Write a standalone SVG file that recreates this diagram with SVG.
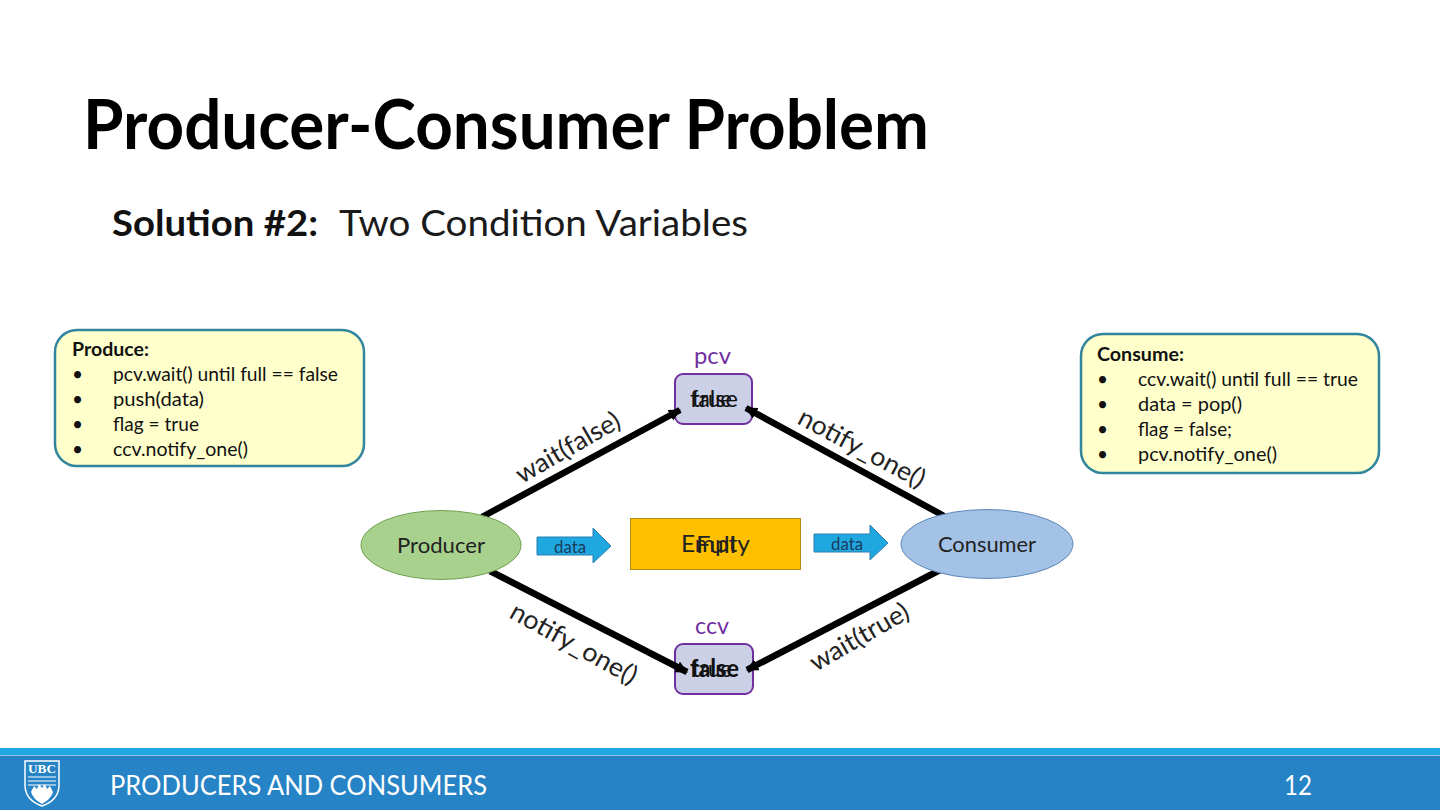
<svg xmlns="http://www.w3.org/2000/svg" width="1440" height="810" viewBox="0 0 1440 810">
<style>
text{font-family:"Lato","Open Sans","Liberation Sans",sans-serif;}
.note{fill:#ffffcc;stroke:#31859c;stroke-width:2.5}
.nt{font-size:19px;fill:#111}
.b{font-weight:700}
.lab{font-size:26px;fill:#222}
.flag{fill:#ccd0e6;stroke:#7030a0;stroke-width:2}
.cv{font-size:23.5px;fill:#7030a0}
.val{font-size:24px;fill:#111}
.arr{fill:#1fa8e0;stroke:#2e7fb0;stroke-width:1}
.dt{font-size:17px;fill:#1c3a5c}
.conn{stroke:#000;stroke-width:6.5;fill:none}
.ah{fill:#000}
</style>
<defs>
<marker id="head" markerUnits="userSpaceOnUse" markerWidth="14" markerHeight="14" refX="11" refY="7" orient="auto"><path class="ah" d="M0,1L12,7L0,13z"/></marker>
</defs>
<rect width="1440" height="810" fill="#fff"/>
<text x="83" y="149" font-size="69" font-weight="700" fill="#000" textLength="846" lengthAdjust="spacingAndGlyphs">Producer-Consumer Problem</text>
<text x="112" y="236" font-size="37" font-weight="700" fill="#111" textLength="206" lengthAdjust="spacingAndGlyphs">Solution #2:</text>
<text x="339" y="236" font-size="37" fill="#1a1a1a" textLength="409" lengthAdjust="spacingAndGlyphs">Two Condition Variables</text>

<g id="produce-note">
<rect class="note" x="55" y="330" width="309" height="136" rx="22"/>
<text class="nt b" x="72" y="356" textLength="77" lengthAdjust="spacingAndGlyphs">Produce:</text>
<text class="nt" x="72" y="381">•</text><text class="nt" x="113" y="381" textLength="225" lengthAdjust="spacingAndGlyphs">pcv.wait() until full == false</text>
<text class="nt" x="72" y="406">•</text><text class="nt" x="113" y="406" textLength="91" lengthAdjust="spacingAndGlyphs">push(data)</text>
<text class="nt" x="72" y="431">•</text><text class="nt" x="113" y="431" textLength="86" lengthAdjust="spacingAndGlyphs">flag = true</text>
<text class="nt" x="72" y="456">•</text><text class="nt" x="113" y="456" textLength="135" lengthAdjust="spacingAndGlyphs">ccv.notify_one()</text>
</g>
<g id="consume-note">
<rect class="note" x="1081" y="334" width="298" height="139" rx="22"/>
<text class="nt b" x="1097" y="361" textLength="87" lengthAdjust="spacingAndGlyphs">Consume:</text>
<text class="nt" x="1097" y="386">•</text><text class="nt" x="1138" y="386" textLength="220" lengthAdjust="spacingAndGlyphs">ccv.wait() until full == true</text>
<text class="nt" x="1097" y="411">•</text><text class="nt" x="1138" y="411" textLength="104" lengthAdjust="spacingAndGlyphs">data = pop()</text>
<text class="nt" x="1097" y="436">•</text><text class="nt" x="1138" y="436" textLength="94" lengthAdjust="spacingAndGlyphs">flag = false;</text>
<text class="nt" x="1097" y="461">•</text><text class="nt" x="1138" y="461" textLength="139" lengthAdjust="spacingAndGlyphs">pcv.notify_one()</text>
</g>

<g id="pcv">
<text class="cv" x="694" y="364" textLength="37" lengthAdjust="spacingAndGlyphs">pcv</text>
<rect class="flag" x="675" y="374" width="77" height="50" rx="8"/>
<text class="val" x="690" y="407" textLength="48" lengthAdjust="spacingAndGlyphs">false</text>
<text class="val" x="692" y="407" textLength="40" lengthAdjust="spacingAndGlyphs">true</text>
</g>
<g id="ccv">
<text class="cv" x="695" y="634" textLength="34" lengthAdjust="spacingAndGlyphs">ccv</text>
<rect class="flag" x="675" y="644" width="78" height="50" rx="8"/>
<text class="val" x="690" y="677" textLength="49" lengthAdjust="spacingAndGlyphs" font-weight="700">false</text>
<text class="val" x="692" y="677" textLength="40" lengthAdjust="spacingAndGlyphs">true</text>
</g>
<g id="connectors">
<path class="conn" d="M482 517L680 410" marker-end="url(#head)"/>
<path class="conn" d="M944 516L746 408" marker-end="url(#head)"/>
<path class="conn" d="M490 571L687 672" marker-end="url(#head)"/>
<path class="conn" d="M940 570L747 670" marker-end="url(#head)"/>
<text class="lab" transform="translate(522,484) rotate(-30)" textLength="116" lengthAdjust="spacingAndGlyphs">wait(false)</text>
<text class="lab" transform="translate(796,423) rotate(28)" textLength="140" lengthAdjust="spacingAndGlyphs">notify_one()</text>
<text class="lab" transform="translate(508,617) rotate(29)" textLength="141" lengthAdjust="spacingAndGlyphs">notify_one()</text>
<text class="lab" transform="translate(816,672) rotate(-30)" textLength="110" lengthAdjust="spacingAndGlyphs">wait(true)</text>
</g>
<g id="producer">
<ellipse cx="441" cy="545" rx="80" ry="34.5" fill="#a9d18e" stroke="#70a04f" stroke-width="1"/>
<text x="397" y="553" font-size="21" fill="#222" textLength="88" lengthAdjust="spacingAndGlyphs">Producer</text>
</g>
<g id="consumer">
<ellipse cx="987" cy="544" rx="86" ry="34.5" fill="#a4c2e6" stroke="#5b86b8" stroke-width="1"/>
<text x="938" y="552" font-size="21" fill="#222" textLength="98" lengthAdjust="spacingAndGlyphs">Consumer</text>
</g>
<g id="buffer">
<rect x="630.500" y="518.500" width="170" height="51" fill="#ffc000" stroke="#b38a16" stroke-width="1"/>
<text x="681" y="552" font-size="23" fill="#222" textLength="69" lengthAdjust="spacingAndGlyphs">Empty</text>
<text x="696" y="553" font-size="23" fill="#222" textLength="40" lengthAdjust="spacingAndGlyphs">Full</text>
</g>
<g id="data-in">
<path class="arr" d="M537 537H593V528L611 546L593 563V555H537z"/>
<text class="dt" x="554" y="553" textLength="32" lengthAdjust="spacingAndGlyphs">data</text>
</g>
<g id="data-out">
<path class="arr" d="M814 534H870V525L888 543L870 560V552H814z"/>
<text class="dt" x="831" y="550" textLength="32" lengthAdjust="spacingAndGlyphs">data</text>
</g>

<g id="footer">
<rect x="0" y="748" width="1440" height="7" fill="#1fa8e0"/>
<rect x="0" y="755.500" width="1440" height="54.500" fill="#2683c6"/>
<g id="logo">
<path d="M25 761H59V785Q59 800 42 806Q25 800 25 785z" fill="#2683c6" stroke="#fff" stroke-width="1.500"/>
<text x="28" y="773" font-size="12" font-weight="700" fill="#fff" textLength="28" lengthAdjust="spacingAndGlyphs" style="font-family:'Liberation Serif',serif">UBC</text>
<path d="M28 777h28M28 781h28M28 785h28" stroke="#fff" stroke-width="1.200"/>
<path d="M31 792L34 786L37 789L39 784L42 788L45 784L47 789L50 786L53 792Q51 799 42 804Q33 799 31 792z" fill="#fff"/>
</g>
<text x="110" y="795" font-size="26" fill="#fff" textLength="377" lengthAdjust="spacingAndGlyphs">PRODUCERS AND CONSUMERS</text>
<text x="1284" y="795" font-size="26" fill="#fff" textLength="28" lengthAdjust="spacingAndGlyphs">12</text>
</g>
</svg>
